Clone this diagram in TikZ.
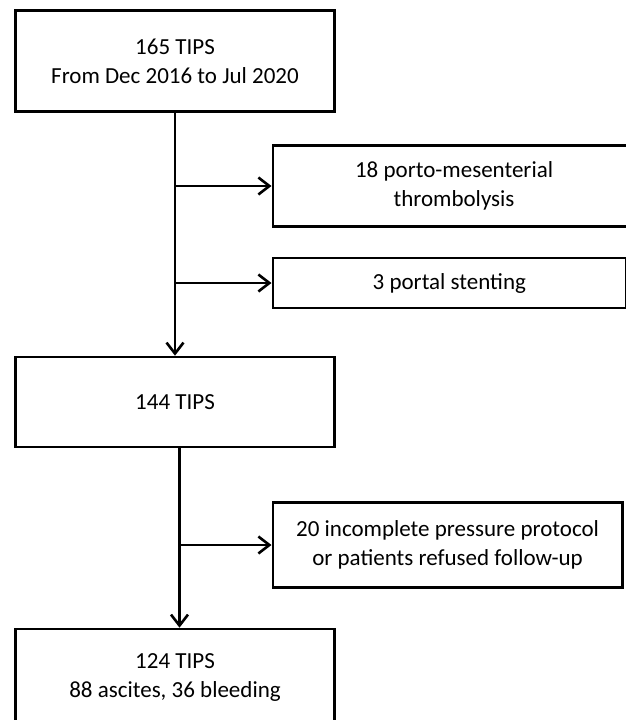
\documentclass[tikz,border=0pt]{standalone}
\usepackage{fontspec}
\setmainfont{Carlito}
\usetikzlibrary{positioning}
\usetikzlibrary{arrows.meta}

\begin{document}
\begin{tikzpicture}[x=1pt,y=-1pt,->,>={Straight Barb[length=11pt,width=17pt]},
		line width=2.6pt,main node/.style={rectangle,draw,align=center,inner sep=0pt,
		minimum width=319.5pt,font=\fontsize{23}{29}\selectfont},
		side node/.style={main node,anchor=west,minimum width=353pt}]
		
		\useasboundingbox (0,0) rectangle (626,720);
		\clip (0,0) rectangle (626,720);
		
		\node[main node, minimum height=101.5pt] (tips165) at (175,61) {165 TIPS\\From Dec 2016 to Jul 2020};
		\node[main node, minimum height=90pt] (tips144) [below of=tips165, node distance=341pt] {144 TIPS};
		\node[main node, minimum height=97pt] (tips124) [below of=tips144, node distance=275.5pt] {124 TIPS\\88 ascites, 36 bleeding};
		\node[side node, minimum width=362.5pt, minimum height=80.5pt] (thromb18) at (271.5,186) {18 porto-mesenterial\\thrombolysis};
		\node[side node, minimum height=50pt] (stent3) at (271.5,283) {3 portal stenting};
		\node[side node, minimum width=349.5pt, minimum height=84.5pt] (excl20) at (271.5,545) {20 incomplete pressure protocol\\or patients refused follow-up};
		
		\coordinate (drop) at ([xshift=4.5pt]tips144.south);
		
		\path
		(tips165) edge (tips144)
		(tips165.south |- thromb18.west) edge (thromb18.west)
		(tips165.south |- stent3.west) edge (stent3.west)
		(drop) edge (drop |- tips124.north)
		(drop |- excl20.west) edge (excl20.west);
		\end{tikzpicture}
\end{document}
